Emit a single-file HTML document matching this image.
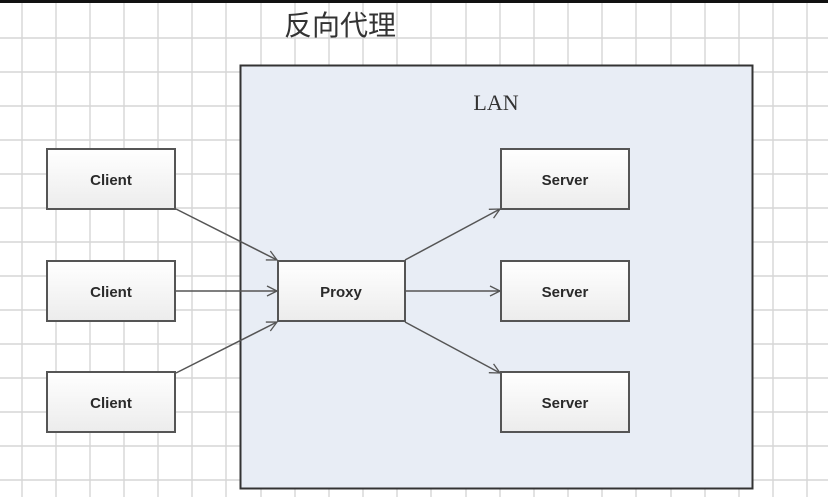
<!DOCTYPE html>
<html><head><meta charset="utf-8"><style>
html,body{margin:0;padding:0;background:#fff;}
svg{display:block}
</style></head><body>
<svg width="828" height="497" xmlns="http://www.w3.org/2000/svg">
<defs>
<linearGradient id="g" x1="0" y1="0" x2="0" y2="1"><stop offset="0" stop-color="#ffffff"/><stop offset="1" stop-color="#ececec"/></linearGradient>
<marker id="a" markerWidth="12" markerHeight="12" refX="11" refY="6" orient="auto" markerUnits="userSpaceOnUse"><path d="M1,1 L11,6 L1,11" fill="none" stroke="#555" stroke-width="1.3"/></marker>
</defs>
<rect width="828" height="497" fill="#fff"/>
<g stroke="#d6d6d6" stroke-width="1.4">
<line x1="22" y1="0" x2="22" y2="497"/><line x1="56" y1="0" x2="56" y2="497"/><line x1="90" y1="0" x2="90" y2="497"/><line x1="124" y1="0" x2="124" y2="497"/><line x1="158" y1="0" x2="158" y2="497"/><line x1="192" y1="0" x2="192" y2="497"/><line x1="226" y1="0" x2="226" y2="497"/><line x1="261" y1="0" x2="261" y2="497"/><line x1="295" y1="0" x2="295" y2="497"/><line x1="329" y1="0" x2="329" y2="497"/><line x1="363" y1="0" x2="363" y2="497"/><line x1="397" y1="0" x2="397" y2="497"/><line x1="431" y1="0" x2="431" y2="497"/><line x1="466" y1="0" x2="466" y2="497"/><line x1="500" y1="0" x2="500" y2="497"/><line x1="534" y1="0" x2="534" y2="497"/><line x1="568" y1="0" x2="568" y2="497"/><line x1="602" y1="0" x2="602" y2="497"/><line x1="636" y1="0" x2="636" y2="497"/><line x1="671" y1="0" x2="671" y2="497"/><line x1="705" y1="0" x2="705" y2="497"/><line x1="739" y1="0" x2="739" y2="497"/><line x1="773" y1="0" x2="773" y2="497"/><line x1="807" y1="0" x2="807" y2="497"/>
<line x1="0" y1="38" x2="828" y2="38"/><line x1="0" y1="72" x2="828" y2="72"/><line x1="0" y1="106" x2="828" y2="106"/><line x1="0" y1="140" x2="828" y2="140"/><line x1="0" y1="174" x2="828" y2="174"/><line x1="0" y1="208" x2="828" y2="208"/><line x1="0" y1="242" x2="828" y2="242"/><line x1="0" y1="276" x2="828" y2="276"/><line x1="0" y1="310" x2="828" y2="310"/><line x1="0" y1="344" x2="828" y2="344"/><line x1="0" y1="378" x2="828" y2="378"/><line x1="0" y1="412" x2="828" y2="412"/><line x1="0" y1="446" x2="828" y2="446"/><line x1="0" y1="480" x2="828" y2="480"/>
</g>
<rect x="0" y="0" width="828" height="3" fill="#111"/>
<text x="284" y="35" font-family="'Liberation Sans','Noto Sans CJK SC',sans-serif" font-size="28" fill="#333">反向代理</text>
<rect x="240.5" y="65.5" width="512" height="423" fill="#e8edf5" stroke="#333" stroke-width="2"/>
<text x="496" y="110" text-anchor="middle" font-family="'Liberation Serif',serif" font-size="22" fill="#333">LAN</text>
<g stroke="#555" stroke-width="2">
<rect x="47" y="149" width="128" height="60" fill="url(#g)"/>
<rect x="47" y="261" width="128" height="60" fill="url(#g)"/>
<rect x="47" y="372" width="128" height="60" fill="url(#g)"/>
<rect x="278" y="261" width="127" height="60" fill="url(#g)"/>
<rect x="501" y="149" width="128" height="60" fill="url(#g)"/>
<rect x="501" y="261" width="128" height="60" fill="url(#g)"/>
<rect x="501" y="372" width="128" height="60" fill="url(#g)"/>
</g>
<g font-family="'Liberation Sans','DejaVu Sans',sans-serif" font-size="15" font-weight="bold" fill="#2a2a2a" text-anchor="middle">
<text x="111" y="185">Client</text><text x="111" y="297">Client</text><text x="111" y="408">Client</text>
<text x="341" y="297">Proxy</text>
<text x="565" y="185">Server</text><text x="565" y="297">Server</text><text x="565" y="408">Server</text>
</g>
<g stroke="#555" stroke-width="1.5" marker-end="url(#a)">
<line x1="176" y1="209" x2="277" y2="260"/>
<line x1="176" y1="291" x2="277" y2="291"/>
<line x1="176" y1="373" x2="277" y2="322"/>
<line x1="405" y1="260" x2="500" y2="209"/>
<line x1="405" y1="291" x2="500" y2="291"/>
<line x1="405" y1="322" x2="500" y2="373"/>
</g>
</svg>
</body></html>
